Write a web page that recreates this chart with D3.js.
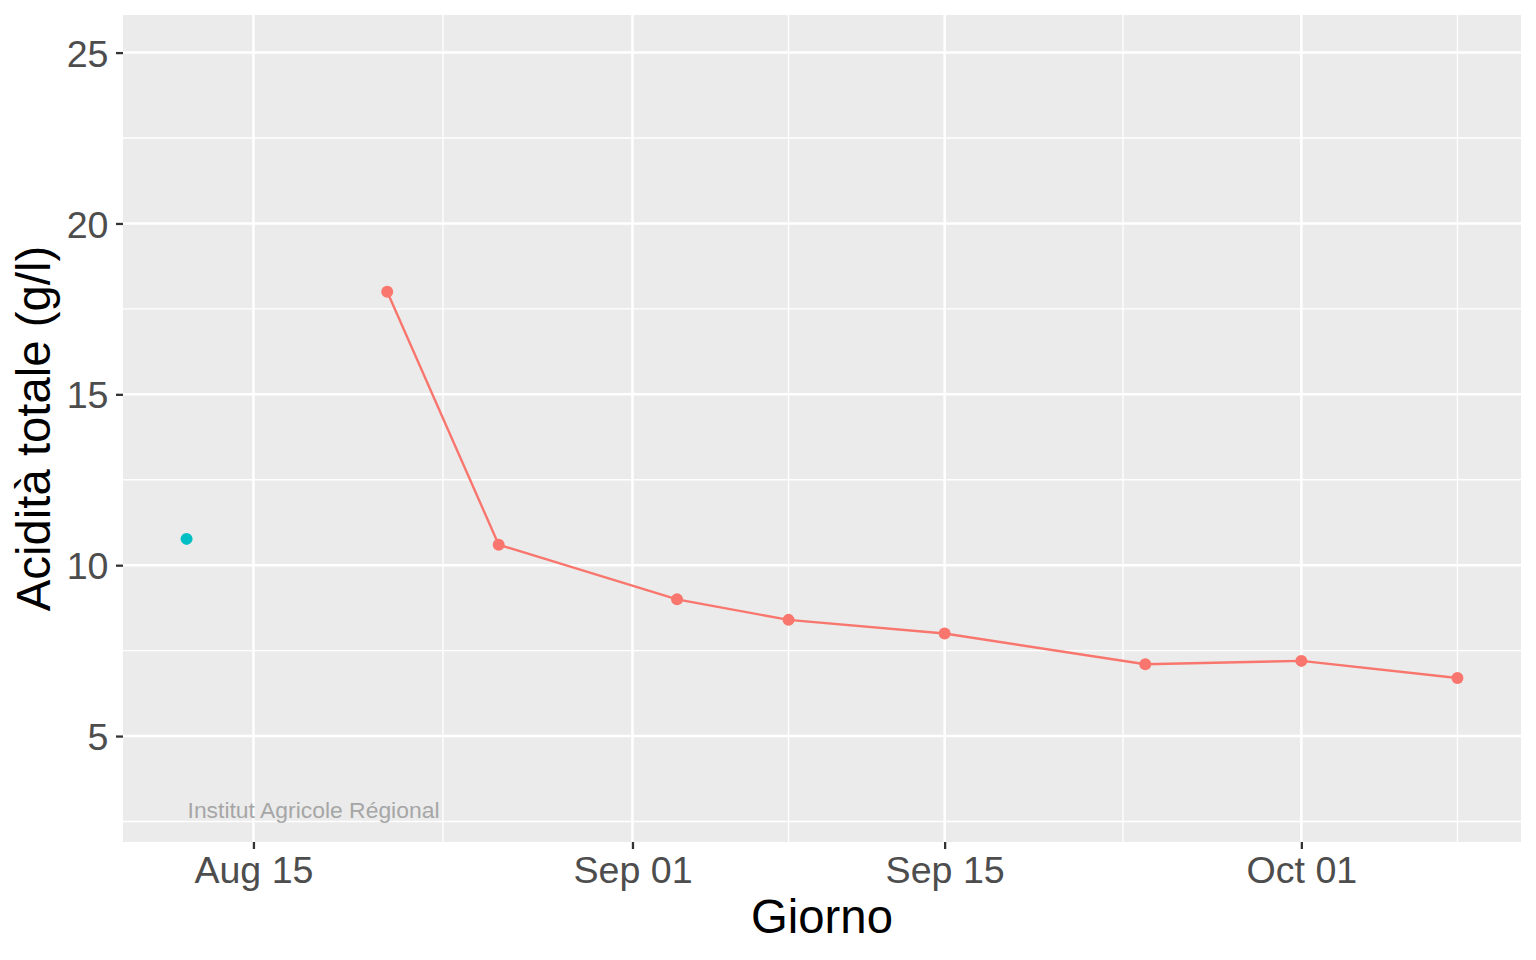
<!DOCTYPE html>
<html>
<head>
<meta charset="utf-8">
<script src="https://cdn.jsdelivr.net/npm/d3@7"></script>
<style>
html,body{margin:0;padding:0;background:#fff;}
text{font-family:"Liberation Sans",Arial,Helvetica,sans-serif;}
</style>
</head>
<body>
<svg id="chart" width="1536" height="960"></svg>
<script>
// ---- data ----
const seriesA_dates = ["2021-08-21","2021-08-26","2021-09-03","2021-09-08","2021-09-15","2021-09-24","2021-10-01","2021-10-08"];
const seriesA_values = [18.0, 10.6, 9.0, 8.4, 8.0, 7.1, 7.2, 6.7];
const seriesB_dates = ["2021-08-12"];
const seriesB_values = [10.77];
const xTickDates = ["2021-08-15","2021-09-01","2021-09-15","2021-10-01"];
const xMinorDates = ["2021-08-23T12:00","2021-09-08","2021-09-23","2021-10-08"];
const yTicks = [5, 10, 15, 20, 25];
const yMinor = [2.5, 7.5, 12.5, 17.5, 22.5];
const yLimits = [3, 25];
const xLabel = "Giorno";
const yLabel = "Acidità totale (g/l)";
const caption = "Institut Agricole Régional";

// ---- layout ----
const P = {left:123, right:1521, top:15, bottom:842};
const parse = s => d3.utcParse(s.length > 10 ? "%Y-%m-%dT%H:%M" : "%Y-%m-%d")(s);
const colA = "#F8766D", colB = "#00BFC4";

const A = seriesA_dates.map((d,i)=>({date:parse(d), v:seriesA_values[i]}));
const B = seriesB_dates.map((d,i)=>({date:parse(d), v:seriesB_values[i]}));
const all = A.concat(B);

const xExt = d3.extent(all, d=>d.date);
const span = xExt[1]-xExt[0];
const x = d3.scaleUtc()
  .domain([new Date(+xExt[0]-0.05*span), new Date(+xExt[1]+0.05*span)])
  .range([P.left, P.right]);
const ySpan = yLimits[1]-yLimits[0];
const y = d3.scaleLinear()
  .domain([yLimits[0]-0.05*ySpan, yLimits[1]+0.05*ySpan])
  .range([P.bottom, P.top]);

const svg = d3.select("#chart");

// panel
svg.append("rect").attr("x",P.left).attr("y",P.top)
  .attr("width",P.right-P.left).attr("height",P.bottom-P.top).attr("fill","#EBEBEB");

const grid = svg.append("g");
// minor grid
grid.selectAll(".ymin").data(yMinor).join("line")
  .attr("x1",P.left).attr("x2",P.right).attr("y1",d=>y(d)).attr("y2",d=>y(d))
  .attr("stroke","#fff").attr("stroke-width",1.3);
grid.selectAll(".xmin").data(xMinorDates.map(parse)).join("line")
  .attr("y1",P.top).attr("y2",P.bottom).attr("x1",d=>x(d)).attr("x2",d=>x(d))
  .attr("stroke","#fff").attr("stroke-width",1.3);
// major grid
grid.selectAll(".ymaj").data(yTicks).join("line")
  .attr("x1",P.left).attr("x2",P.right).attr("y1",d=>y(d)).attr("y2",d=>y(d))
  .attr("stroke","#fff").attr("stroke-width",2.5);
grid.selectAll(".xmaj").data(xTickDates.map(parse)).join("line")
  .attr("y1",P.top).attr("y2",P.bottom).attr("x1",d=>x(d)).attr("x2",d=>x(d))
  .attr("stroke","#fff").attr("stroke-width",2.5);

// axes
const fmt = d3.utcFormat("%b %d");
const xAxis = d3.axisBottom(x).tickValues(xTickDates.map(parse)).tickFormat(fmt)
  .tickSizeInner(7).tickSizeOuter(0).tickPadding(6);
const gx = svg.append("g").attr("transform",`translate(0,${P.bottom})`).call(xAxis);
gx.select(".domain").remove();
gx.selectAll(".tick line").attr("stroke","#333").attr("stroke-width",2.3);
gx.selectAll(".tick text").attr("fill","#4D4D4D").attr("font-size",37.6)
  .attr("y",null).attr("dy",null).attr("transform","translate(0,41.3)");

const yAxis = d3.axisLeft(y).tickValues(yTicks).tickFormat(d3.format("d"))
  .tickSizeInner(7).tickSizeOuter(0).tickPadding(7.5);
const gy = svg.append("g").attr("transform",`translate(${P.left},0)`).call(yAxis);
gy.select(".domain").remove();
gy.selectAll(".tick line").attr("stroke","#333").attr("stroke-width",2.3);
gy.selectAll(".tick text").attr("fill","#4D4D4D").attr("font-size",37.6).attr("dy","0.36em");

// line + points series A
svg.append("path").datum(A)
  .attr("d", d3.line().x(d=>x(d.date)).y(d=>y(d.v)))
  .attr("fill","none").attr("stroke",colA).attr("stroke-width",2.4);
svg.selectAll(".pa").data(A).join("circle")
  .attr("cx",d=>x(d.date)).attr("cy",d=>y(d.v)).attr("r",6).attr("fill",colA);
svg.selectAll(".pb").data(B).join("circle")
  .attr("cx",d=>x(d.date)).attr("cy",d=>y(d.v)).attr("r",6).attr("fill",colB);

// caption annotation
svg.append("text").attr("x",x(B[0].date)+1).attr("y",y(2.6))
  .attr("font-size",22.9).attr("fill","#A6A6A6").text(caption);

// axis titles
svg.append("text").attr("x",(P.left+P.right)/2).attr("y",933)
  .attr("text-anchor","middle").attr("font-size",47.3).attr("fill","#000").text(xLabel);
svg.append("text").attr("transform",`translate(50,${(P.top+P.bottom)/2}) rotate(-90)`)
  .attr("text-anchor","middle").attr("font-size",47.3).attr("fill","#000").text(yLabel);
</script>
</body>
</html>
